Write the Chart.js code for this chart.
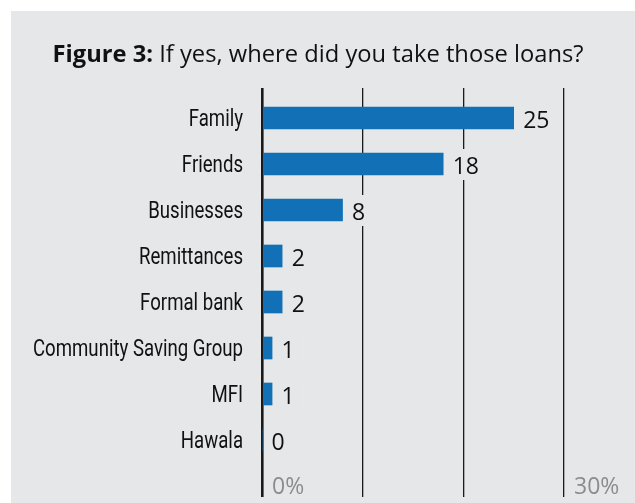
<!DOCTYPE html>
<html>
<head>
<meta charset="utf-8">
<script src="https://cdn.jsdelivr.net/npm/chart.js@4"></script>
<style>
  html,body{margin:0;padding:0;background:#fff;}
  #wrap{width:635px;height:503px;}
</style>
</head>
<body>
<div id="wrap"><canvas id="loansChart" width="635" height="503"></canvas></div>
<script>
// data
const categories = ['Family','Friends','Businesses','Remittances','Formal bank','Community Saving Group','MFI','Hawala'];
const loanCounts = [25, 18, 8, 2, 2, 1, 1, 0];
const axisTicks = [0, 10, 20, 30];
const axisTickLabels = {0: '0%', 30: '30%'};

const labelFont = 'Roboto, "Liberation Sans", sans-serif';
const regular = '"Open Sans", "Liberation Sans", sans-serif';
const panelGrey = '#e6e7e8';

const bgPlugin = {
  id: 'bg',
  beforeDraw(chart){
    const c = chart.ctx;
    c.save();
    c.fillStyle = '#ffffff';
    c.fillRect(0, 0, chart.width, chart.height);
    c.fillStyle = panelGrey;
    c.fillRect(11, 11, chart.width - 11, chart.height - 11);
    c.restore();
  }
};

const titlePlugin = {
  id: 'mixedTitle',
  afterDraw(chart){
    const c = chart.ctx;
    const boldPart = 'Figure 3: ', restPart = 'If yes, where did you take those loans?';
    c.save();
    c.textBaseline = 'alphabetic';
    c.fillStyle = '#111';
    c.font = 'bold 23px ' + regular;
    const wb = c.measureText(boldPart).width;
    c.font = '23px ' + regular;
    const wr = c.measureText(restPart).width;
    const sx = 531 / (wb + wr);
    c.translate(318 - 531 / 2, 62);
    c.scale(sx, 1);
    c.font = 'bold 23px ' + regular;
    c.fillText(boldPart, 0, 0);
    c.font = '23px ' + regular;
    c.fillText(restPart, wb, 0);
    c.restore();
  }
};

// category names in a narrow face: squeezed horizontally at the scale's tick positions
const catLabels = {
  id: 'catLabels',
  afterDraw(chart){
    const c = chart.ctx;
    const ys = chart.scales.y;
    c.save();
    c.font = '23px ' + labelFont;
    c.fillStyle = '#111';
    c.textBaseline = 'alphabetic';
    c.textAlign = 'right';
    const sx = 210 / c.measureText('Community Saving Group').width;
    categories.forEach((name, i) => {
      c.save();
      c.translate(243, ys.getPixelForValue(i) + 8);
      c.scale(sx, 1);
      c.fillText(name, 0, 0);
      c.restore();
    });
    c.restore();
  }
};

const valueLabels = {
  id: 'valueLabels',
  afterDatasetsDraw(chart){
    const c = chart.ctx;
    const meta = chart.getDatasetMeta(0);
    c.save();
    c.font = '23px ' + regular;
    c.textBaseline = 'alphabetic';
    c.textAlign = 'left';
    meta.data.forEach((bar, i) => {
      const txt = String(loanCounts[i]);
      const tx = bar.x + 9.5;
      const w = c.measureText(txt).width;
      // label sits on a grey box that hides the gridlines behind it
      c.fillStyle = panelGrey;
      c.fillRect(tx - 2, bar.y - 15, w + 4, 31);
      c.fillStyle = '#111';
      c.fillText(txt, tx, bar.y + 10);
    });
    const xs = chart.scales.x;
    c.font = '23px ' + regular;
    c.fillStyle = '#8c8c8c';
    Object.keys(axisTickLabels).forEach(v => {
      c.fillText(axisTickLabels[v], xs.getPixelForValue(+v) + 10, 494);
    });
    c.restore();
  }
};

new Chart(document.getElementById('loansChart'), {
  type: 'bar',
  data: {
    datasets: [{
      data: loanCounts.map((v, i) => ({x: v, y: i})),
      backgroundColor: '#1270b6',
      borderWidth: 0,
      barThickness: 22
    }]
  },
  options: {
    indexAxis: 'y',
    responsive: false,
    animation: false,
    devicePixelRatio: 1,
    layout: {padding: {top: 88, bottom: 6, right: 71, left: 0}},
    plugins: {legend: {display: false}, tooltip: {enabled: false}, title: {display: false}},
    scales: {
      x: {
        type: 'linear', min: 0, max: 30,
        afterBuildTicks: s => { s.ticks = axisTicks.map(v => ({value: v})); },
        ticks: {display: false},
        border: {display: false},
        grid: {
          drawTicks: false,
          color: '#1a1a1a',
          lineWidth: ctx => ctx.tick && ctx.tick.value === 0 ? 2.6 : 1.3
        }
      },
      y: {
        type: 'linear', min: -0.652, max: 8.239, reverse: true, offset: false,
        afterBuildTicks: s => { s.ticks = categories.map((c, i) => ({value: i})); },
        afterFit: s => { s.width = 262; },
        border: {display: false},
        grid: {display: false, drawTicks: false},
        ticks: {display: false}
      }
    }
  },
  plugins: [bgPlugin, titlePlugin, catLabels, valueLabels]
});
</script>
</body>
</html>
